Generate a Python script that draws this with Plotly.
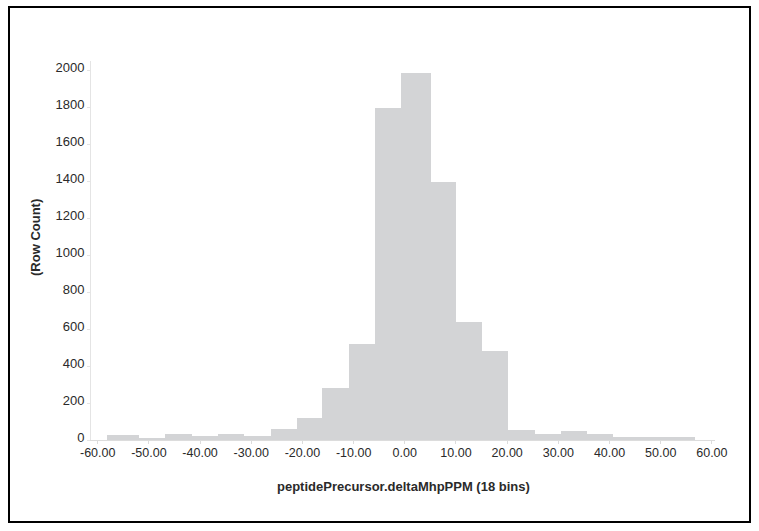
import plotly.graph_objects as go

# Bin edges (ppm) and row counts
bin_edges = [-58.2, -51.9, -46.9, -41.6, -36.5, -31.4, -26.1, -21.1, -16.2, -10.9,
             -5.8, -0.7, 5.1, 10.0, 15.1, 20.2, 25.4, 30.5, 35.6, 40.7, 56.7]
row_counts = [27, 12, 32, 22, 33, 22, 58, 120, 280, 517,
              1793, 1985, 1393, 640, 481, 56, 31, 49, 32, 18]
x_tick_vals = [-60, -50, -40, -30, -20, -10, 0, 10, 20, 30, 40, 50, 60]
x_tick_text = ["-60.00", "-50.00", "-40.00", "-30.00", "-20.00", "-10.00", "0.00",
               "10.00", "20.00", "30.00", "40.00", "50.00", "60.00"]
y_tick_vals = [0, 200, 400, 600, 800, 1000, 1200, 1400, 1600, 1800, 2000]
x_title = "peptidePrecursor.deltaMhpPPM (18 bins)"
y_title = "(Row Count)"

centers = [(a + b) / 2 for a, b in zip(bin_edges[:-1], bin_edges[1:])]
widths = [b - a for a, b in zip(bin_edges[:-1], bin_edges[1:])]

W, H = 759, 531
L, R, T, B = 91, 44, 61, 91
pw, ph = W - L - R, H - T - B

def px(xp):
    return (xp - L) / pw

def py(yp):
    return (H - B - yp) / ph

fig = go.Figure()
fig.add_trace(go.Bar(
    x=centers, y=row_counts, width=widths,
    marker=dict(color="#d3d4d6", line=dict(width=0)),
    hoverinfo="skip",
))

font_family = "Liberation Sans, Arial, sans-serif"
fig.update_layout(
    width=W, height=H,
    margin=dict(l=L, r=R, t=T, b=B, pad=0),
    paper_bgcolor="white", plot_bgcolor="white",
    showlegend=False,
    bargap=0,
    font=dict(family=font_family, size=13, color="#333333"),
    xaxis=dict(
        range=[-61.31, 60.61],
        tickvals=x_tick_vals, ticktext=x_tick_text,
        showgrid=False, zeroline=False,
        showline=True, linecolor="#dcdcdc", linewidth=1,
        ticks="outside", ticklen=3, tickcolor="#dcdcdc",
        ticklabelstandoff=-2,
        tickfont=dict(size=12.5, color="#2a2a2a"),
        fixedrange=True,
    ),
    yaxis=dict(
        range=[0, 2049],
        tickvals=y_tick_vals,
        showgrid=False, zeroline=False,
        showline=True, linecolor="#e4e4e4", linewidth=1,
        ticks="outside", ticklen=3, tickcolor="#e4e4e4",
        ticklabelshift=-3,
        tickfont=dict(size=13, color="#2a2a2a"),
        fixedrange=True,
    ),
    annotations=[
        dict(text=f"<b>{x_title}</b>", xref="paper", yref="paper",
             x=px(403), y=py(486), xanchor="center", yanchor="middle",
             showarrow=False, font=dict(size=13, color="#2a2a2a", family=font_family)),
        dict(text=f"<b>{y_title}</b>", xref="paper", yref="paper",
             x=px(35), y=py(238), xanchor="center", yanchor="middle", textangle=-90,
             showarrow=False, font=dict(size=13, color="#2a2a2a", family=font_family)),
    ],
    shapes=[
        dict(type="rect", xref="paper", yref="paper",
             x0=px(9), x1=px(750), y0=py(522), y1=py(7),
             line=dict(color="black", width=2), fillcolor="rgba(0,0,0,0)", layer="above"),
    ],
)

fig.write_html("out.html")
